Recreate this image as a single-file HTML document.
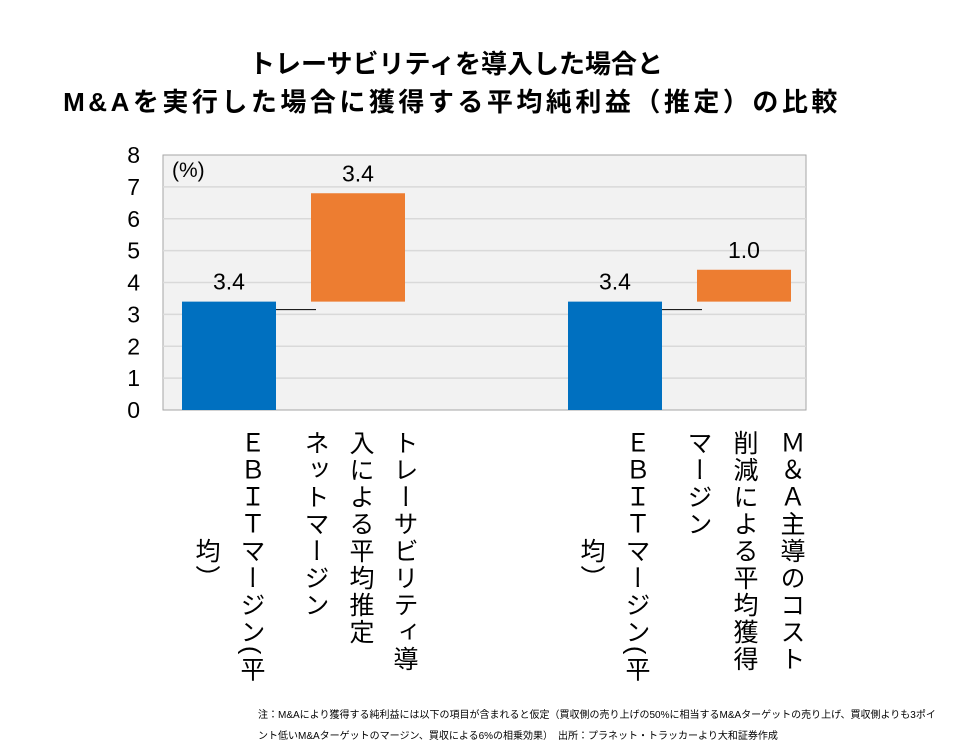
<!DOCTYPE html>
<html><head><meta charset="utf-8">
<style>
body{margin:0;background:#fff;font-family:"Liberation Sans","Noto Sans CJK JP",sans-serif;}
#wrap{position:relative;width:960px;height:750px;overflow:hidden;}
.title{position:absolute;left:0;width:960px;text-align:center;font-weight:bold;font-size:26px;color:#000;white-space:nowrap;}
.vcol{position:absolute;writing-mode:vertical-rl;font-size:25px;letter-spacing:2px;top:430px;line-height:30px;color:#000;white-space:nowrap;}
.note{position:absolute;left:258px;font-size:10px;color:#000;white-space:nowrap;}
</style></head>
<body><div id="wrap">
<div class="title" style="top:44px;left:-24px">トレーサビリティを導入した場合と</div>
<div class="title" style="top:82px;left:-28px;letter-spacing:3.5px">M&amp;Aを実行した場合に獲得する平均純利益（推定）の比較</div>
<svg id="chart" width="960" height="750" style="position:absolute;left:0;top:0"></svg>
<div class="vcol" style="left:236px">ＥＢＩＴマージン(平</div>
<div class="vcol" style="left:191px;top:538px">均）</div>
<div class="vcol" style="left:389px">トレーサビリティ導</div>
<div class="vcol" style="left:345px">入による平均推定</div>
<div class="vcol" style="left:300px">ネットマージン</div>
<div class="vcol" style="left:621px">ＥＢＩＴマージン(平</div>
<div class="vcol" style="left:576px;top:538px">均）</div>
<div class="vcol" style="left:776px">Ｍ＆Ａ主導のコスト</div>
<div class="vcol" style="left:729px">削減による平均獲得</div>
<div class="vcol" style="left:683px">マージン</div>
<div class="note" style="top:706px">注：M&amp;Aにより獲得する純利益には以下の項目が含まれると仮定（買収側の売り上げの50%に相当するM&amp;Aターゲットの売り上げ、買収側よりも3ポイ</div>
<div class="note" style="top:727px">ント低いM&amp;Aターゲットのマージン、買収による6%の相乗効果）　出所：プラネット・トラッカーより大和証券作成</div>
</div>
<script>
const categories=["EBIT1","Trace","EBIT2","MA"];
const bases=[0,3.4,0,3.4];
const values=[3.4,3.4,3.4,1.0];
const labels=["3.4","3.4","3.4","1.0"];
const kinds=["total","inc","total","inc"];
const yTicks=[0,1,2,3,4,5,6,7,8];
const NS="http://www.w3.org/2000/svg";
const svg=document.getElementById('chart');
const L=163,R=806,T=155,B=410,yMax=8;
const y=v=>B-(v/yMax)*(B-T);
const barX=[182,311,568,697],barW=94;
function mk(t,a){const e=document.createElementNS(NS,t);for(const k in a)e.setAttribute(k,a[k]);svg.appendChild(e);return e;}
const bg=mk('rect',{x:L,y:T,width:R-L,height:B-T,fill:'#f2f2f2',stroke:'#a6a6a6','stroke-width':1});


yTicks.forEach(t=>{
  if(t>0&&t<yMax){const g=mk('line',{x1:L,x2:R,y1:y(t),y2:y(t),stroke:'#d9d9d9','stroke-width':1.5});
  
  }
  const tx=mk('text',{x:140,y:y(t)+8,'text-anchor':'end','font-size':23,fill:'#000'});
  tx.textContent=t;
  
  
});
const u=mk('text',{x:172,y:177,'font-size':21,fill:'#000'});u.textContent='(%)';


categories.forEach((c,i)=>{
  const top=y(bases[i]+values[i]),bot=y(bases[i]);
  const r=mk('rect',{x:barX[i],y:top,width:barW,height:bot-top,fill:kinds[i]=='total'?'#0070c0':'#ed7d31'});
  
  
  const tx=mk('text',{x:barX[i]+barW/2,y:top-12,'text-anchor':'middle','font-size':23,fill:'#000'});
  tx.textContent=labels[i];
  
  
  if(kinds[i]=='total'){
    const ly=y(bases[i]+values[i])+8;
    const ln=mk('line',{x1:barX[i]+barW,x2:barX[i+1]+5,y1:ly,y2:ly,stroke:'#000','stroke-width':1});
    
    
  }
});
</script>
</body></html>
